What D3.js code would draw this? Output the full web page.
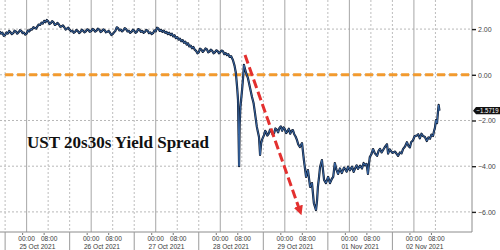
<!DOCTYPE html>
<html>
<head>
<meta charset="utf-8">
<script src="https://cdn.jsdelivr.net/npm/d3@7"></script>
<style>
  body { margin: 0; background: #fff; }
  svg { display: block; }
</style>
</head>
<body>
<div id="chart"></div>
<script>
// hours are counted from 00:00 25 Oct 2021, with the weekend squeezed out
var dayNames = ["25 Oct 2021", "26 Oct 2021", "27 Oct 2021", "28 Oct 2021", "29 Oct 2021", "01 Nov 2021", "02 Nov 2021"];
var midnightHours = [0, 24, 48, 72, 96, 120, 144];
var morningHours = [8, 32, 56, 80, 104, 128, 152];
var dayBreakHours = [-8, 16, 40, 64, 88, 112, 136];
var yTicks = [2, 0, -2, -4, -6];
var lastValue = -1.5719;

// UST 20s30s spread, [hour, value]
var spread = [
  [-10, 1.90], [-9.5, 1.80], [-9, 1.84], [-8.5, 1.70], [-8, 1.74], [-7.5, 1.85], [-7, 1.80], [-6.5, 1.92],
  [-6, 1.86], [-5.5, 1.78], [-5, 1.82], [-4.5, 1.93], [-4, 1.90], [-3.5, 1.80], [-3, 1.86], [-2.5, 1.95],
  [-2, 1.92], [-1.5, 1.82], [-1, 1.85], [-0.5, 1.76], [0, 1.80], [0.5, 1.94], [1, 1.90], [1.5, 1.99],
  [2, 1.98], [2.5, 2.08], [3, 2.05], [3.5, 2.02], [4, 2.12], [4.5, 2.20], [5, 2.18], [5.5, 2.28],
  [6, 2.24], [6.5, 2.36], [7, 2.30], [7.5, 2.40], [8, 2.34], [8.5, 2.22], [9, 2.26], [9.5, 2.35],
  [10, 2.30], [10.5, 2.18], [11, 2.22], [11.5, 2.27], [12, 2.20], [12.5, 2.10], [13, 2.12], [13.5, 2.16],
  [14, 2.08], [14.5, 1.98], [15, 2.02], [15.5, 2.06], [16, 1.97], [16.5, 1.90], [17, 1.93], [17.5, 1.84],
  [18, 1.88], [18.5, 1.96], [19, 1.92], [19.5, 1.83], [20, 1.87], [20.5, 1.97], [21, 1.93], [21.5, 1.86],
  [22, 1.90], [22.5, 1.99], [23, 1.96], [23.5, 1.88], [24, 1.91], [24.5, 2.01], [25, 1.97], [25.5, 1.89],
  [26, 1.93], [26.5, 2.02], [27, 1.98], [27.5, 1.87], [28, 1.91], [28.5, 1.99], [29, 1.95], [29.5, 1.86],
  [30, 1.88], [30.5, 1.92], [31, 1.84], [31.5, 1.74], [32, 1.78], [32.5, 1.86], [33, 1.92], [33.5, 2.08],
  [34, 2.04], [34.5, 1.94], [35, 1.98], [35.5, 1.90], [36, 1.95], [36.5, 2.04], [37, 2.00], [37.5, 1.90],
  [38, 1.92], [38.5, 1.84], [39, 1.88], [39.5, 1.97], [40, 1.93], [40.5, 1.84], [41, 1.88], [41.5, 2.00],
  [42, 1.97], [42.5, 1.88], [43, 1.92], [43.5, 1.84], [44, 1.88], [44.5, 1.96], [45, 1.93], [45.5, 1.82],
  [46, 1.86], [46.5, 1.78], [47, 1.82], [47.5, 1.94], [48, 1.90], [48.5, 2.06], [49, 2.03], [49.5, 1.92],
  [50, 1.96], [50.5, 1.88], [51, 1.93], [51.5, 1.84], [52, 1.88], [52.5, 1.78], [53, 1.84], [53.5, 1.74],
  [54, 1.80], [54.5, 1.68], [55, 1.73], [55.5, 1.60], [56, 1.65], [56.5, 1.54], [57, 1.58], [57.5, 1.47],
  [58, 1.52], [58.5, 1.40], [59, 1.45], [59.5, 1.32], [60, 1.38], [60.5, 1.24], [61, 1.28], [61.5, 1.16],
  [62, 1.22], [62.5, 1.10], [63, 1.05], [63.5, 0.94], [64, 0.98], [64.5, 1.14], [65, 1.10], [65.5, 1.00],
  [66, 1.06], [66.5, 1.15], [67, 1.12], [67.5, 0.98], [68, 1.02], [68.5, 1.10], [69, 1.05], [69.5, 0.94],
  [70, 0.98], [70.5, 1.07], [71, 1.04], [71.5, 0.94], [72, 0.99], [72.5, 1.06], [73, 1.03], [73.5, 0.90],
  [74, 0.95], [74.5, 0.86], [75, 0.90], [75.5, 0.78], [76, 0.82], [76.7, 0.65], [77.3, 0.40], [77.8, 0.08],
  [78.3, -0.60], [78.6, -1.10], [78.8, -2.60], [79.0, -4.00], [79.2, -2.20], [79.5, -1.40], [80.1, -0.67], [80.5, -0.10],
  [80.8, 0.43], [81.2, 0.25], [81.6, 0.08], [82.3, -0.15], [83.0, -0.53], [83.8, -0.97], [84.4, -1.25], [84.9, -1.67],
  [85.6, -2.28], [86.0, -2.50], [86.4, -2.72], [86.8, -3.51], [87.2, -3.00], [87.5, -2.85], [88.3, -2.63], [88.7, -2.45],
  [89, -2.50], [89.5, -2.66], [90, -2.58], [90.5, -2.40], [91, -2.48], [91.5, -2.62], [92, -2.56], [92.5, -2.35],
  [93, -2.40], [93.5, -2.52], [94, -2.33], [94.5, -2.26], [95, -2.45], [95.5, -2.30], [96, -2.38], [96.5, -2.55],
  [97, -2.47], [97.5, -2.36], [98, -2.58], [98.5, -2.45], [99, -2.42], [99.5, -2.60], [100, -2.70], [100.5, -2.85],
  [101, -3.05], [101.6, -3.16], [102.4, -2.99], [103.1, -3.73], [103.9, -4.47], [104.6, -4.17], [105.4, -4.91], [106.1, -4.74],
  [106.8, -5.62], [107.6, -5.92], [108, -5.48], [108.3, -4.91], [108.7, -4.50], [109.1, -4.04], [109.8, -3.73], [110.6, -4.60],
  [111.3, -4.74], [112.1, -4.47], [112.8, -4.74], [113.5, -4.55], [114, -4.47], [114.6, -3.86], [115.2, -4.15], [115.8, -4.34],
  [116.5, -4.10], [117.2, -4.30], [118, -4.06], [118.4, -4.12], [119, -4.24], [119.5, -4.02], [120.2, -4.18], [121, -4.02],
  [121.6, -4.25], [122.1, -4.10], [122.7, -3.96], [123.2, -4.12], [124, -3.98], [124.7, -4.10], [125.3, -3.86], [125.8, -3.96],
  [126.4, -3.90], [126.9, -4.34], [127.3, -3.90], [127.6, -3.60], [128.2, -3.48], [128.8, -3.25], [129.5, -3.44], [130.3, -3.55],
  [130.9, -3.32], [131.4, -3.24], [132, -3.40], [132.5, -3.30], [133.2, -3.16], [134, -3.04], [134.4, -3.45], [135, -3.26],
  [136, -3.42], [137, -3.36], [138.1, -3.55], [138.8, -3.40], [139.4, -3.44], [140, -3.24], [140.7, -3.14], [141.4, -2.95],
  [142, -3.12], [142.5, -3.18], [143, -2.94], [143.6, -2.88], [144.3, -2.68], [145.1, -2.66], [145.6, -2.60], [146.2, -2.78],
  [146.8, -2.58], [147.4, -2.68], [148.1, -2.72], [148.8, -2.90], [149.4, -2.74], [150, -2.80], [150.5, -2.62], [151.1, -2.68],
  [151.5, -2.45], [151.8, -2.33], [152.2, -1.98], [152.6, -2.12], [152.9, -1.68], [153.2, -1.32], [153.5, -1.5719]
];

// red annotation arrow, [hour, value]
var arrowPts = [[81.2, 0.87], [101.6, -5.95]];

var svgWidth = 500;
var svgHeight = 250;
var plotRight = 472;
var plotBottom = 232;

var svg = d3.select("#chart")
  .append("svg")
  .attr("width", svgWidth)
  .attr("height", svgHeight);

var x = d3.scaleLinear()
  .domain([-9.9, 165.6])
  .range([0, plotRight]);

var y = d3.scaleLinear()
  .domain([-6.88, 3.273])
  .range([plotBottom, 0]);

// horizontal grid
svg.append("g")
  .selectAll("line")
  .data(yTicks)
  .enter()
  .append("line")
  .attr("x1", 0)
  .attr("x2", plotRight)
  .attr("y1", d => y(d))
  .attr("y2", d => y(d))
  .attr("stroke", "#b8b8b8")
  .attr("stroke-width", 1)
  .attr("stroke-dasharray", "2,2");

// vertical grid: dotted at 08:00 and day breaks, solid at 00:00
svg.append("g")
  .selectAll("line")
  .data(morningHours.concat(dayBreakHours))
  .enter()
  .append("line")
  .attr("x1", d => x(d))
  .attr("x2", d => x(d))
  .attr("y1", 0)
  .attr("y2", plotBottom)
  .attr("stroke", "#bdbdbd")
  .attr("stroke-width", 1)
  .attr("stroke-dasharray", "2,2");

svg.append("g")
  .selectAll("line")
  .data(midnightHours)
  .enter()
  .append("line")
  .attr("x1", d => x(d))
  .attr("x2", d => x(d))
  .attr("y1", 0)
  .attr("y2", plotBottom)
  .attr("stroke", "#a6a6a6")
  .attr("stroke-width", 1);

// zero line
svg.append("line")
  .attr("x1", x(-8))
  .attr("x2", plotRight)
  .attr("y1", y(0))
  .attr("y2", y(0))
  .attr("stroke", "#f29a2e")
  .attr("stroke-width", 3)
  .attr("stroke-dasharray", "8,4");

// the series
var line = d3.line()
  .x(d => x(d[0]))
  .y(d => y(d[1]));

svg.append("path")
  .datum(spread)
  .attr("fill", "none")
  .attr("stroke", "#0f1a2e")
  .attr("stroke-width", 2.2)
  .attr("stroke-linejoin", "round")
  .attr("d", line);

svg.append("path")
  .datum(spread)
  .attr("fill", "none")
  .attr("stroke", "#4178c0")
  .attr("stroke-width", 0.8)
  .attr("stroke-linejoin", "round")
  .attr("d", line);

// red dashed arrow
svg.append("defs")
  .append("marker")
  .attr("id", "head")
  .attr("viewBox", "0 0 10 10")
  .attr("refX", 5)
  .attr("refY", 5)
  .attr("markerWidth", 3.2)
  .attr("markerHeight", 3.2)
  .attr("orient", "auto")
  .append("path")
  .attr("d", "M0,0 L10,5 L0,10 z")
  .attr("fill", "#e3302f");

svg.append("path")
  .datum(arrowPts)
  .attr("fill", "none")
  .attr("stroke", "#e3302f")
  .attr("stroke-width", 3)
  .attr("stroke-dasharray", "9,4")
  .attr("marker-end", "url(#head)")
  .attr("d", line);

// frame
svg.append("line")
  .attr("x1", plotRight).attr("x2", plotRight)
  .attr("y1", 0).attr("y2", plotBottom)
  .attr("stroke", "#8c8c8c");
svg.append("line")
  .attr("x1", 0).attr("x2", plotRight)
  .attr("y1", plotBottom).attr("y2", plotBottom)
  .attr("stroke", "#8c8c8c");

// right axis
var yAxis = d3.axisRight(y)
  .tickValues(yTicks)
  .tickFormat(d3.format(".2f"))
  .tickSize(4)
  .tickPadding(2);

var yAxisG = svg.append("g")
  .attr("transform", `translate(${plotRight},0)`)
  .call(yAxis);
yAxisG.select(".domain").remove();
yAxisG.selectAll("line").attr("stroke", "#222").attr("stroke-width", 1.4);
yAxisG.selectAll("text")
  .attr("fill", "#444")
  .style("font-family", "'Liberation Sans', Arial, sans-serif")
  .style("font-size", "7px");

// bottom axis: hour labels, day labels, day separators
var xLab = svg.append("g")
  .style("font-family", "'Liberation Sans', Arial, sans-serif")
  .style("font-size", "6.6px")
  .attr("fill", "#3a3a3a")
  .attr("text-anchor", "middle");

xLab.selectAll("text.h0")
  .data(midnightHours)
  .enter()
  .append("text")
  .attr("x", d => x(d))
  .attr("y", 240.5)
  .text("00:00");

xLab.selectAll("text.h8")
  .data(morningHours)
  .enter()
  .append("text")
  .attr("x", d => x(d) + 1)
  .attr("y", 240.5)
  .text("08:00");

xLab.selectAll("text.day")
  .data(dayNames)
  .enter()
  .append("text")
  .attr("x", (d, i) => x(midnightHours[i] + 4))
  .attr("y", 249)
  .text(d => d);

svg.append("g")
  .selectAll("line")
  .data(midnightHours.concat(morningHours))
  .enter()
  .append("line")
  .attr("x1", d => x(d) - 4)
  .attr("x2", d => x(d) - 4)
  .attr("y1", plotBottom + 1)
  .attr("y2", plotBottom + 3)
  .attr("stroke", "#777");

svg.append("g")
  .selectAll("line")
  .data(dayBreakHours)
  .enter()
  .append("line")
  .attr("x1", d => x(d))
  .attr("x2", d => x(d))
  .attr("y1", plotBottom)
  .attr("y2", svgHeight)
  .attr("stroke", "#9a9a9a");

// last value tag
var tagY = y(lastValue);
svg.append("path")
  .attr("d", `M${plotRight + 1},${tagY} L${plotRight + 4},${tagY - 3.6} L500,${tagY - 3.6} L500,${tagY + 3.6} L${plotRight + 4},${tagY + 3.6} Z`)
  .attr("fill", "#111");
svg.append("text")
  .attr("x", plotRight + 4.5)
  .attr("y", tagY + 2.4)
  .attr("fill", "#fff")
  .attr("textLength", 22)
  .attr("lengthAdjust", "spacingAndGlyphs")
  .style("font-family", "'Liberation Sans', Arial, sans-serif")
  .style("font-size", "6.6px")
  .text(d3.format(".4f")(lastValue));

// title
svg.append("text")
  .attr("x", 27)
  .attr("y", 147.5)
  .attr("fill", "#111")
  .style("font-family", "'Liberation Serif', 'DejaVu Serif', serif")
  .style("font-weight", "bold")
  .style("font-size", "17px")
  .text("UST 20s30s Yield Spread");
</script>
</body>
</html>
